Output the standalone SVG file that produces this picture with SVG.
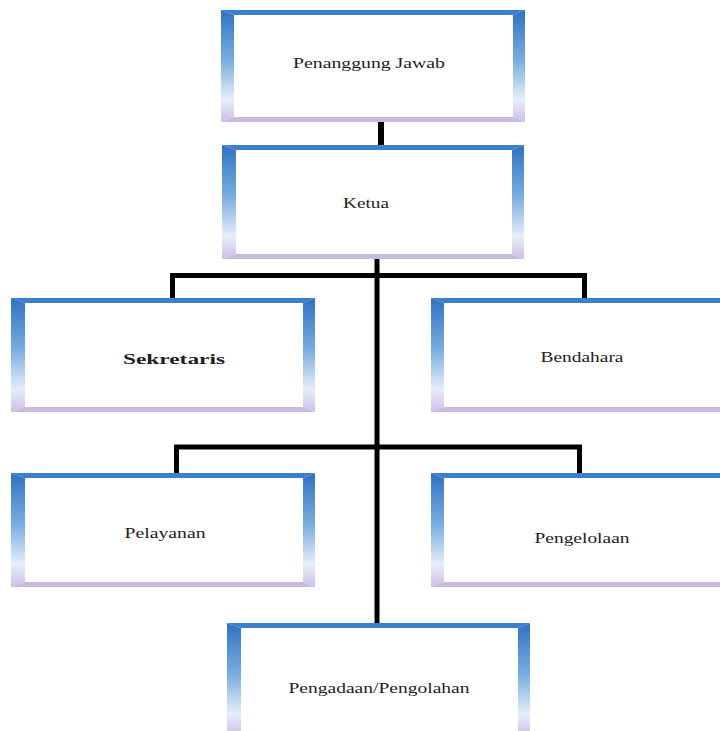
<svg xmlns="http://www.w3.org/2000/svg" width="720" height="731" viewBox="0 0 720 731">
<style>
.top{fill:#3b7fcf}
.side{fill:url(#sideG)}
.bot{fill:#c9bae2}
.inner{fill:#ffffff}
.hl{fill:url(#hlG)}
.lbl{font-family:"Liberation Serif","Times New Roman",serif;font-size:15px;fill:#1e1e1e;text-anchor:middle}
.conn{stroke:#000;fill:none;stroke-linecap:butt}
</style>
<defs>
<linearGradient id="sideG" x1="0" y1="0" x2="0" y2="1">
<stop offset="0" stop-color="#2e72c4"/>
<stop offset="0.45" stop-color="#79ade0"/>
<stop offset="0.8" stop-color="#e6eef9"/>
<stop offset="1" stop-color="#cdbfe6"/>
</linearGradient>
<linearGradient id="hlG" x1="0" y1="0" x2="0" y2="1">
<stop offset="0" stop-color="#ffffff" stop-opacity="0.1"/>
<stop offset="1" stop-color="#ffffff" stop-opacity="0.6"/>
</linearGradient>
</defs>

<g id="connectors">
<line class="conn" x1="381" y1="122" x2="381" y2="145" stroke-width="6"/>
<line class="conn" x1="377" y1="259" x2="377" y2="623" stroke-width="5"/>
<polyline class="conn" points="172.5,298 172.5,275.5 584.5,275.5 584.5,298" stroke-width="5"/>
<polyline class="conn" points="176.5,473 176.5,447 579.5,447 579.5,473" stroke-width="5"/>
</g>

<g id="penanggung-jawab">
<polygon class="top" points="221,10 525,10 513,15 234,15"/>
<polygon class="side" points="221,10 234,15 234,117 221,122"/>
<polygon class="side" points="525,10 525,122 513,117 513,15"/>
<polygon class="bot" points="221,122 234,117 513,117 525,122"/>
<rect class="inner" x="234" y="15" width="279" height="102"/>
<text class="lbl" x="369" y="68" textLength="152" lengthAdjust="spacingAndGlyphs">Penanggung Jawab</text>
</g>

<g id="ketua">
<polygon class="top" points="222,145 524,145 512,150 236,150"/>
<polygon class="side" points="222,145 236,150 236,254 222,259"/>
<polygon class="side" points="524,145 524,259 512,254 512,150"/>
<polygon class="bot" points="222,259 236,254 512,254 524,259"/>
<rect class="inner" x="236" y="150" width="276" height="104"/>
<text class="lbl" x="366" y="208" textLength="46" lengthAdjust="spacingAndGlyphs">Ketua</text>
</g>

<g id="sekretaris">
<polygon class="top" points="11,298 315,298 303,303 25,303"/>
<polygon class="side" points="11,298 25,303 25,407 11,412"/>
<polygon class="side" points="315,298 315,412 303,407 303,303"/>
<polygon class="bot" points="11,412 25,407 303,407 315,412"/>
<rect class="inner" x="25" y="303" width="278" height="104"/>
<text class="lbl" x="174" y="364" font-weight="bold" textLength="102" lengthAdjust="spacingAndGlyphs">Sekretaris</text>
</g>

<g id="bendahara">
<polygon class="top" points="431,298 735,298 723,303 444,303"/>
<polygon class="side" points="431,298 444,303 444,407 431,412"/>
<polygon class="bot" points="431,412 444,407 723,407 735,412"/>
<rect class="inner" x="444" y="303" width="279" height="104"/>
<text class="lbl" x="582" y="362" textLength="83" lengthAdjust="spacingAndGlyphs">Bendahara</text>
</g>

<g id="pelayanan">
<polygon class="top" points="11,473 315,473 303,478 25,478"/>
<polygon class="side" points="11,473 25,478 25,582 11,587"/>
<polygon class="side" points="315,473 315,587 303,582 303,478"/>
<polygon class="bot" points="11,587 25,582 303,582 315,587"/>
<rect class="inner" x="25" y="478" width="278" height="104"/>
<text class="lbl" x="165" y="538" textLength="81" lengthAdjust="spacingAndGlyphs">Pelayanan</text>
</g>

<g id="pengelolaan">
<polygon class="top" points="431,473 735,473 723,478 444,478"/>
<polygon class="side" points="431,473 444,478 444,582 431,587"/>
<polygon class="bot" points="431,587 444,582 723,582 735,587"/>
<rect class="inner" x="444" y="478" width="279" height="104"/>
<text class="lbl" x="582" y="543" textLength="95" lengthAdjust="spacingAndGlyphs">Pengelolaan</text>
</g>

<g id="pengadaan-pengolahan">
<polygon class="top" points="227,623 530,623 518,628 241,628"/>
<polygon class="side" points="227,623 241,628 241,732 227,737"/>
<polygon class="side" points="530,623 530,737 518,732 518,628"/>
<polygon class="bot" points="227,737 241,732 518,732 530,737"/>
<rect class="inner" x="241" y="628" width="277" height="104"/>
<text class="lbl" x="379" y="693" textLength="181" lengthAdjust="spacingAndGlyphs">Pengadaan/Pengolahan</text>
</g>
</svg>
